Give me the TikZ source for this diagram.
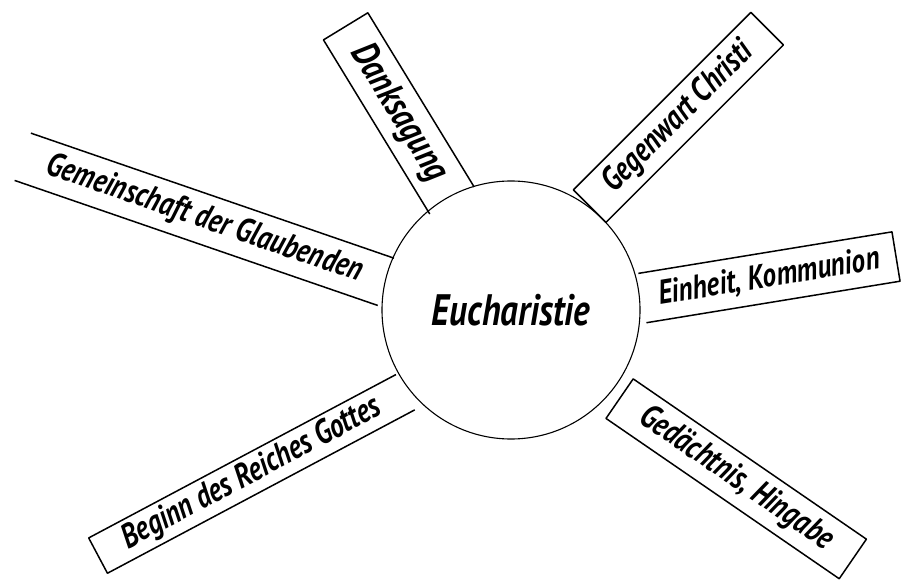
\documentclass[tikz,border=0pt]{standalone}
\usepackage{fontspec}
\newfontfamily\brushfont{PT Sans}[FakeStretch=0.8]

\begin{document}
\begin{tikzpicture}[x=1pt,y=1pt,line join=round]
\tikzstyle{ray}=[inner sep=0pt,outer sep=0pt,font=\brushfont\bfseries\itshape]
\tikzstyle{edge}=[line width=1.5pt]
\useasboundingbox[fill=white] (0,0) rectangle (901,584);
\node[circle,draw,line width=1.1pt,minimum size=258pt,inner sep=0pt,font=\brushfont\bfseries\itshape\fontsize{44}{44}\selectfont] (eu) at (511,274) {Eucharistie};
\foreach \n/\x/\y/\a/\l/\w/\s/\t in {gem/204.3/364.7/-19/384/50/34/{Gemeinschaft der Glaubenden},dank/398.8/470.6/-58.6/204/52/38/{Danksagung},geg/678.4/466.6/45/251/46/34/{Gegenwart Christi},ein/769.2/306.7/9.3/257/50/34/{Einheit, Kommunion},ged/736.2/105.2/-34.5/283/48/34/{Gedächtnis, Hingabe},beg/251.7/110.1/28/348/40/34/{Beginn des Reiches Gottes}}
  \node[ray,rotate=\a,minimum width=\l pt,minimum height=\w pt] (\n) at (\x,\y) {\fontsize{\s}{\s}\selectfont\t};
% sides of the rays, open where they meet the circle
\draw[edge] (gem.north west) -- (gem.north east) (gem.south west) -- (gem.south east);
\draw[edge] (dank.north east) -- (dank.north west) -- (dank.south west) -- (dank.south east);
\draw[edge] (geg.north west) -- (geg.north east) -- (geg.south east) -- (geg.south west) -- cycle;
\draw[edge] (ein.north west) -- (ein.north east) -- (ein.south east) -- (ein.south west);
\draw[edge] (ged.north west) -- (ged.north east) -- (ged.south east) -- (ged.south west) -- cycle;
\draw[edge] (beg.north east) -- (beg.north west) -- (beg.south west) -- (beg.south east);
\end{tikzpicture}
\end{document}
